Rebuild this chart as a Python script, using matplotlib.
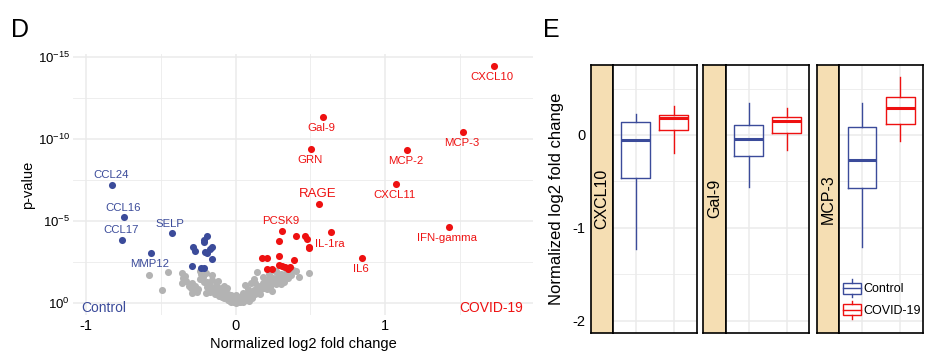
import matplotlib
matplotlib.use("Agg")
import matplotlib.pyplot as plt
from matplotlib.patches import Patch, Rectangle
from matplotlib.lines import Line2D
from matplotlib.legend_handler import HandlerBase

plt.rcParams['font.family'] = ['Liberation Sans', 'DejaVu Sans']
plt.rcParams['mathtext.default'] = 'regular'
plt.rcParams['axes.unicode_minus'] = False

# Cores
AZUL = '#3B4B9A'
VERMELHO = '#EE1111'
CINZA = '#B3B3B3'
GRADE = '#EBEBEB'

# Painel D - volcano (x = log2 fold change, y = -log10 p)
rotulos_up = ['CXCL10', 'MCP-3', 'MCP-2', 'CXCL11', 'IFN-gamma', 'IL6', 'IL-1ra', 'RAGE', 'GRN', 'Gal-9', 'PCSK9']
up_x = [1.726, 1.518, 1.144, 1.07, 1.425, 0.845, 0.64, 0.555, 0.506, 0.582, 0.31]
up_y = [14.47, 10.45, 9.31, 7.26, 4.62, 2.73, 4.31, 6.04, 9.37, 11.34, 4.41]
lado_up = ['below', 'below', 'below', 'below', 'below', 'below', 'below', 'above', 'below', 'below', 'above']

rotulos_down = ['CCL24', 'CCL16', 'CCL17', 'SELP', 'MMP12']
down_x = [-0.825, -0.744, -0.758, -0.428, -0.566]
down_y = [7.2, 5.22, 3.84, 4.25, 3.05]
lado_down = ['above', 'above', 'above', 'above', 'below']

# pontos significativos sem rotulo
outros_down_x = [-0.287, -0.27, -0.29, -0.214, -0.209, -0.189, -0.207, -0.191, -0.169, -0.156, -0.16, -0.229, -0.211]
outros_down_y = [3.43, 3.19, 2.24, 3.84, 3.74, 4.07, 3.09, 3.05, 3.29, 3.40, 2.68, 2.13, 2.13]
outros_up_x = [0.292, 0.401, 0.462, 0.478, 0.489, 0.493, 0.174, 0.212, 0.292, 0.393, 0.21, 0.245, 0.292, 0.31, 0.332, 0.361, 0.35]
outros_up_y = [3.80, 4.07, 4.07, 3.94, 3.43, 3.37, 2.73, 2.73, 2.89, 2.66, 2.07, 2.07, 2.32, 2.27, 2.18, 2.18, 2.07]

# nao significativos
cinza_x = [-0.58, -0.49, -0.45, -0.36, -0.36, -0.35, -0.33, -0.30, -0.29, -0.29, -0.27, -0.25, -0.24, -0.22,
           -0.21, -0.20, -0.19, -0.18, -0.17, -0.16, -0.15, -0.14, -0.13, -0.12, -0.12, -0.11, -0.10, -0.09,
           -0.08, -0.07, -0.06, -0.05, -0.05, -0.04, -0.03, -0.02, -0.01, 0.0, 0.01, 0.02, 0.03, 0.04, 0.05,
           0.06, 0.07, 0.08, 0.09, 0.10, 0.11, 0.12, 0.13, 0.14, 0.15, 0.16, 0.17, 0.18, 0.19, 0.20, 0.21,
           0.22, 0.23, 0.24, 0.25, 0.26, 0.27, 0.28, 0.29, 0.30, 0.31, 0.33, 0.34, 0.36, 0.38, 0.40, 0.49,
           0.065, 0.14, 0.10, -0.06, -0.03, 0.02, 0.05, -0.08, 0.12, 0.18, 0.22, -0.22, -0.24, 0.26, 0.33,
           -0.16, 0.08, -0.02, 0.0, 0.04, -0.13, -0.19, -0.26, -0.31, 0.28, 0.35, 0.37, 0.11, -0.04, 0.03,
           -0.01, 0.015, -0.015, 0.035, 0.09, -0.09, 0.16, 0.24, 0.30, 0.42, -0.20, -0.28,
           -0.34, -0.23, -0.11, 0.06, 0.13, 0.21, 0.27, 0.32, -0.07, 0.0]
cinza_y = [1.71, 0.79, 1.91, 1.81, 1.22, 1.55, 1.35, 0.95, 0.60, 1.20, 1.05, 0.85, 1.45, 1.62,
           1.30, 1.85, 0.98, 1.15, 0.70, 1.40, 0.90, 0.55, 1.10, 1.38, 0.80, 0.45, 0.95, 0.62,
           0.30, 0.75, 0.40, 0.55, 0.20, 0.35, 0.10, 0.25, 0.05, 0.02, 0.12, 0.06, 0.18, 0.28, 0.10,
           0.38, 0.22, 0.50, 0.32, 0.62, 0.45, 0.80, 0.55, 0.95, 0.70, 1.05, 0.85, 1.20, 0.95, 1.30, 1.10,
           1.45, 1.00, 1.25, 1.55, 1.35, 1.15, 1.65, 1.40, 1.80, 1.55, 1.70, 1.90, 1.85, 2.05, 1.95, 1.81,
           1.10, 1.91, 1.25, 0.95, 0.50, 0.40, 0.65, 1.05, 1.45, 1.60, 1.75, 2.05, 1.95, 1.95, 2.15,
           1.70, 0.85, 0.15, 0.30, 0.45, 0.65, 1.30, 0.70, 1.05, 1.25, 1.55, 1.70, 0.30, 0.15, 0.08,
           0.22, 0.26, 0.12, 0.35, 0.15, 0.40, 0.55, 0.75, 1.15, 1.60, 0.60, 0.95,
           1.65, 1.75, 0.65, 0.55, 1.20, 0.85, 1.95, 1.30, 0.50, 0.50]

# Painel E - boxplots (whisker baixo, Q1, mediana, Q3, whisker alto)
proteinas = ['CXCL10', 'Gal-9', 'MCP-3']
grupos = ['Control', 'COVID-19']
control_stats = [[-1.23, -0.463, -0.054, 0.14, 0.23],
                 [-0.56, -0.226, -0.047, 0.11, 0.34],
                 [-1.21, -0.568, -0.27, 0.09, 0.34]]
covid_stats = [[-0.19, 0.05, 0.18, 0.22, 0.31],
               [-0.165, 0.025, 0.147, 0.197, 0.29],
               [-0.06, 0.118, 0.294, 0.41, 0.625]]


class HandlerBox(HandlerBase):
    def create_artists(self, legend, orig_handle, xdescent, ydescent, width, height, fontsize, trans):
        c = orig_handle.get_edgecolor()
        x0 = -xdescent
        y0 = -ydescent
        caixa = Rectangle((x0, y0 + height * 0.1), width, height * 0.8, fill=False, ec=c, lw=1.0, transform=trans)
        med = Line2D([x0, x0 + width], [y0 + height * 0.5] * 2, color=c, lw=1.0, transform=trans)
        w1 = Line2D([x0 + width / 2] * 2, [y0 + height * 0.9, y0 + height * 1.15], color=c, lw=1.0, transform=trans)
        w2 = Line2D([x0 + width / 2] * 2, [y0 + height * 0.1, y0 - height * 0.15], color=c, lw=1.0, transform=trans)
        return [caixa, med, w1, w2]


fig = plt.figure(figsize=(9.25, 3.54), dpi=100)

# ---------- Painel D ----------
ax = fig.add_axes([72.7 / 925, 39 / 354, 460.6 / 925, 261 / 354])
ax.set_xlim(-1.09, 1.99)
ax.set_ylim(-0.72, 15.18)
ax.set_xticks([-1, 0, 1])
ax.set_xticks([-0.5, 0.5, 1.5], minor=True)
ax.set_yticks([0, 5, 10, 15])
ax.set_yticklabels([r'$10^{0}$', r'$10^{-5}$', r'$10^{-10}$', r'$10^{-15}$'])
ax.set_yticks([2.5, 7.5, 12.5], minor=True)
ax.grid(which='major', color=GRADE, lw=1.1)
ax.grid(which='minor', color=GRADE, lw=0.6)
ax.set_axisbelow(True)
for s in ax.spines.values():
    s.set_visible(False)
ax.tick_params(which='both', length=0, labelsize=10.5, pad=3)
ax.tick_params(axis='y', labelsize=9.5, pad=2)
ax.set_xlabel('Normalized log2 fold change', fontsize=10.5, labelpad=3)
ax.set_ylabel('p-value', fontsize=10.5, labelpad=2)

ax.scatter(cinza_x, cinza_y, s=26, color=CINZA, lw=0, zorder=2)
ax.scatter(outros_down_x, outros_down_y, s=26, color=AZUL, lw=0, zorder=3)
ax.scatter(outros_up_x, outros_up_y, s=26, color=VERMELHO, lw=0, zorder=3)
ax.scatter(down_x, down_y, s=26, color=AZUL, lw=0, zorder=3)
ax.scatter(up_x, up_y, s=26, color=VERMELHO, lw=0, zorder=3)

for nome, x, y, lado in zip(rotulos_up, up_x, up_y, lado_up):
    tam = 9.5 if nome == 'RAGE' else 8.2
    dy = 7 if lado == 'above' else -8
    ax.annotate(nome, (x, y), xytext=(-1, dy), textcoords='offset points', ha='center', va='center',
                color=VERMELHO, fontsize=tam)
for nome, x, y, lado in zip(rotulos_down, down_x, down_y, lado_down):
    dy = 7 if lado == 'above' else -8
    ax.annotate(nome, (x, y), xytext=(-1, dy), textcoords='offset points', ha='center', va='center',
                color=AZUL, fontsize=8.2)

ax.text(-1.03, -0.3, 'Control', color=AZUL, fontsize=10, ha='left', va='center')
ax.text(1.71, -0.3, 'COVID-19', color=VERMELHO, fontsize=10, ha='center', va='center')

fig.text(11 / 925, 1 - 30 / 354, 'D', fontsize=18, va='center')
fig.text(543 / 925, 1 - 30 / 354, 'E', fontsize=18, va='center')

# ---------- Painel E ----------
faixas = [(590.7, 612.7, 696.7), (703.3, 725.7, 809.3), (816.7, 839, 923.3)]
topo, base = 65, 332.7
for i, (s0, p0, p1) in enumerate(faixas):
    b = (354 - base) / 354
    h = (base - topo) / 354
    ax_s = fig.add_axes([s0 / 925, b, (p0 - s0) / 925, h])
    ax_s.set_facecolor('#F5DEB3')
    ax_s.set_ylim(-2.13, 0.754)
    ax_s.set_xticks([])
    for s in ax_s.spines.values():
        s.set_color('black')
        s.set_linewidth(1.2)
    ax_s.text(0.5, 0.5, proteinas[i], rotation=90, transform=ax_s.transAxes, ha='center', va='center',
              fontsize=11.5)
    if i == 0:
        ax_s.set_yticks([-2, -1, 0])
        ax_s.set_yticklabels(['-2', '-1', '0'])
        ax_s.tick_params(axis='y', length=0, labelsize=10.5, pad=4)
        ax_s.set_ylabel('Normalized log2 fold change', fontsize=12, labelpad=6)
    else:
        ax_s.set_yticks([])

    axb = fig.add_axes([p0 / 925, b, (p1 - p0) / 925, h])
    axb.set_xlim(0.4, 2.6)
    axb.set_ylim(-2.13, 0.754)
    axb.set_xticks([1, 2])
    axb.set_yticks([-2, -1, 0])
    axb.set_yticks([-1.5, -0.5, 0.5], minor=True)
    axb.grid(which='major', color=GRADE, lw=1.1)
    axb.grid(which='minor', color=GRADE, lw=0.6)
    axb.set_axisbelow(True)
    axb.tick_params(which='both', length=0, labelleft=False, labelbottom=False)
    for s in axb.spines.values():
        s.set_color('black')
        s.set_linewidth(1.2)

    for pos, dados, cor in [(1, control_stats[i], AZUL), (2, covid_stats[i], VERMELHO)]:
        est = [{'whislo': dados[0], 'q1': dados[1], 'med': dados[2], 'q3': dados[3], 'whishi': dados[4],
                'fliers': []}]
        axb.bxp(est, positions=[pos], widths=0.75, showfliers=False, showcaps=False,
                boxprops=dict(color=cor, lw=1.0), whiskerprops=dict(color=cor, lw=1.0),
                medianprops=dict(color=cor, lw=2.2), manage_ticks=False)

    if i == 2:
        handles = [Patch(facecolor='none', edgecolor=AZUL), Patch(facecolor='none', edgecolor=VERMELHO)]
        axb.legend(handles, grupos, handler_map={Patch: HandlerBox()}, loc='lower left',
                   bbox_to_anchor=(0.0, 0.045), frameon=False, fontsize=9, handlelength=1.45,
                   handleheight=1.3, handletextpad=0.2, labelspacing=0.6, borderaxespad=0.1,
                   borderpad=0.2)

fig.savefig('out.png', dpi=100)
